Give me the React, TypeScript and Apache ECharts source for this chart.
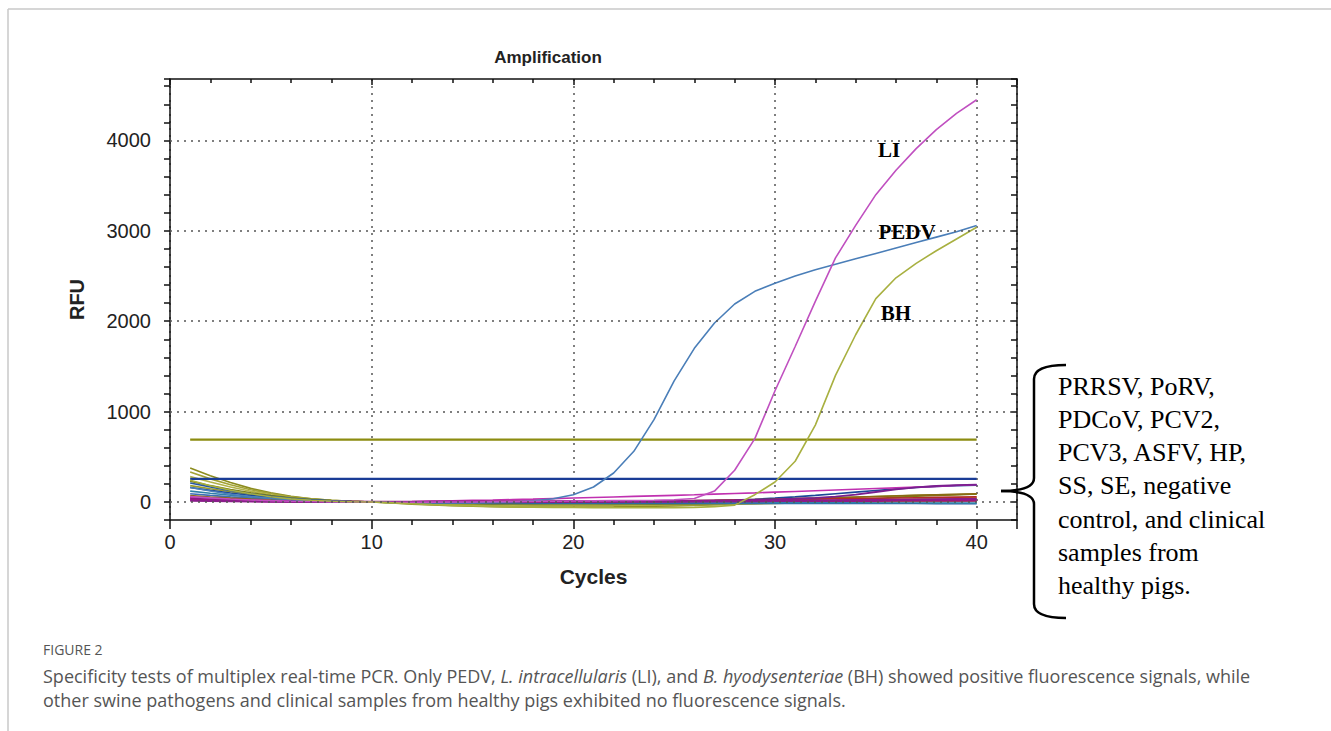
import React, { useEffect, useRef } from "react";
import * as echarts from "echarts";

const cycles = [1, 2, 3, 4, 5, 6, 7, 8, 9, 10, 11, 12, 13, 14, 15, 16, 17, 18, 19, 20, 21, 22, 23, 24, 25, 26, 27, 28, 29, 30, 31, 32, 33, 34, 35, 36, 37, 38, 39, 40];

const xTickLabels = [0, 10, 20, 30, 40];
const yTickLabels = [0, 1000, 2000, 3000, 4000];

// Positive samples
const pedv = [160, 120, 85, 60, 40, 25, 14, 6, 2, 0,
  -6, -10, -12, -12, -10, -6, 0, 12, 35, 80,
  165, 320, 560, 910, 1340, 1700, 1980, 2190, 2330, 2420,
  2500, 2570, 2630, 2690, 2750, 2810, 2870, 2930, 2990, 3060];
const li = [60, 45, 32, 22, 14, 8, 4, 1, 0, -2,
  -3, -3, -2, -1, 0, 2, 4, 6, 8, 10,
  12, 14, 16, 19, 24, 38, 120, 350, 700, 1230,
  1720, 2220, 2700, 3060, 3400, 3670, 3910, 4120, 4300, 4450];
const bh = [240, 180, 130, 90, 58, 34, 18, 8, 2, 0,
  -10, -20, -30, -38, -45, -50, -55, -58, -60, -62,
  -64, -65, -65, -65, -63, -60, -52, -35, 80, 220,
  450, 850, 1400, 1850, 2250, 2480, 2640, 2780, 2910, 3040];

// Thresholds
const thresholdOlive = 690;
const thresholdBlue = 255;

// Negative / non-target samples
const o1 = [375, 290, 215, 150, 100, 62, 36, 18, 6, 0,
  -12, -24, -34, -42, -48, -52, -55, -57, -58, -58,
  -57, -55, -52, -48, -44, -38, -30, -20, -8, 4,
  18, 30, 42, 52, 60, 68, 74, 78, 82, 85];
const o2 = [330, 255, 190, 135, 92, 58, 34, 18, 7, 0,
  -8, -16, -22, -28, -33, -36, -38, -40, -41, -42,
  -42, -41, -40, -38, -36, -33, -30, -26, -22, -17,
  -12, -6, 0, 6, 12, 18, 24, 30, 36, 42];
const o3 = [280, 220, 165, 118, 80, 52, 31, 16, 6, 0,
  -6, -12, -18, -24, -28, -32, -35, -37, -38, -38,
  -37, -35, -33, -30, -26, -22, -18, -14, -10, -6,
  -2, 3, 8, 14, 20, 26, 32, 38, 44, 50];
const o4 = [230, 180, 138, 100, 70, 46, 28, 15, 6, 0,
  -5, -10, -14, -18, -21, -24, -26, -27, -28, -28,
  -28, -27, -26, -24, -22, -19, -16, -12, -8, -4,
  2, 8, 16, 26, 38, 50, 62, 72, 80, 88];
const o5 = [180, 145, 112, 82, 58, 40, 25, 13, 5, 0,
  -4, -8, -12, -15, -18, -20, -22, -23, -24, -24,
  -24, -23, -22, -21, -20, -18, -16, -14, -12, -10,
  -8, -6, -4, -2, 0, 2, 4, 6, 8, 10];
const b1 = [210, 165, 125, 90, 62, 40, 24, 12, 4, 0,
  -4, -8, -11, -13, -15, -16, -17, -17, -18, -18,
  -18, -18, -18, -18, -18, -18, -17, -17, -17, -16,
  -16, -16, -16, -17, -17, -18, -18, -19, -19, -20];
const b2 = [160, 128, 98, 72, 50, 33, 20, 10, 3, 0,
  -3, -6, -8, -9, -10, -10, -10, -9, -8, -7,
  -6, -5, -3, -1, 2, 6, 12, 20, 30, 42,
  56, 72, 90, 108, 126, 144, 160, 172, 180, 186];
const b3 = [120, 96, 74, 55, 39, 26, 15, 7, 2, 0,
  -2, -4, -6, -7, -8, -8, -8, -8, -8, -8,
  -7, -8, -8, -9, -9, -9, -10, -10, -10, -10,
  -10, -11, -11, -11, -12, -12, -12, -13, -13, -13];
const b4 = [90, 72, 56, 42, 30, 20, 12, 6, 2, 0,
  -1, -2, -3, -3, -3, -2, -1, 0, 1, 2,
  3, 4, 5, 6, 7, 8, 9, 10, 11, 12,
  13, 15, 16, 18, 19, 21, 23, 24, 26, 28];
const m1 = [45, 34, 24, 16, 10, 6, 3, 1, 0, -1,
  2, 5, 9, 13, 17, 21, 26, 31, 37, 43,
  49, 55, 61, 67, 73, 79, 86, 93, 100, 108,
  116, 124, 132, 140, 148, 156, 164, 172, 181, 190];
const m2 = [35, 27, 20, 14, 9, 6, 3, 1, 0, -1,
  -2, -2, -1, -1, 0, 1, 2, 3, 4, 5,
  6, 7, 8, 10, 12, 14, 17, 20, 24, 29,
  35, 44, 58, 80, 110, 140, 162, 176, 185, 192];
const m3 = [25, 19, 14, 10, 7, 4, 2, 1, 0, 0,
  0, 1, 1, 2, 2, 3, 3, 4, 4, 5,
  5, 6, 6, 7, 7, 8, 8, 9, 9, 10,
  10, 11, 11, 12, 12, 13, 13, 14, 14, 15];
const m4 = [15, 12, 9, 6, 4, 2, 1, 0, 0, -1,
  -1, -1, 0, 0, 1, 1, 2, 2, 3, 3,
  4, 4, 5, 5, 6, 7, 8, 9, 10, 12,
  14, 16, 18, 20, 22, 24, 26, 28, 30, 32];
const r1 = [50, 38, 28, 20, 13, 8, 4, 2, 0, -1,
  -2, -2, -1, 0, 1, 2, 3, 4, 5, 6,
  7, 8, 9, 11, 13, 15, 17, 20, 23, 26,
  29, 32, 35, 38, 41, 44, 47, 50, 53, 56];
const br1 = [70, 55, 42, 31, 22, 14, 8, 4, 1, 0,
  -2, -4, -5, -6, -6, -6, -5, -4, -3, -2,
  0, 2, 4, 6, 9, 12, 16, 20, 25, 30,
  36, 42, 48, 54, 60, 66, 72, 78, 84, 90];

const braceLines = [
  "PRRSV, PoRV,",
  "PDCoV, PCV2,",
  "PCV3, ASFV, HP,",
  "SS, SE, negative",
  "control, and clinical",
  "samples from",
  "healthy pigs.",
];

const SANS = "Liberation Sans";
const SERIF = "Liberation Serif";

function mk(name: string, values: number[], color: string, width: number, z = 2): any {
  return {
    type: "line",
    name,
    data: values.map((v, i) => [cycles[i], v]),
    showSymbol: false,
    symbol: "none",
    silent: true,
    z,
    lineStyle: { color, width },
    itemStyle: { color },
  };
}

export default function App() {
  const ref = useRef<HTMLDivElement>(null);
  useEffect(() => {
    if (!ref.current) return;
    const chart = echarts.init(ref.current, null, { renderer: "svg" });

    const dotted = { type: [2, 5] as any, color: "#555", width: 1.5 };
    const axisLine = { show: true, onZero: false, lineStyle: { color: "#111", width: 1.5 } };

    const baseSeries = [
      mk("o1", o1, "#8c8c1e", 1.6),
      mk("o2", o2, "#a3a335", 1.6),
      mk("o3", o3, "#b3b34a", 1.6),
      mk("o4", o4, "#7d7d10", 1.6),
      mk("o5", o5, "#9c9c28", 1.6),
      mk("b1", b1, "#2556a4", 1.6),
      mk("b2", b2, "#1c4898", 1.6),
      mk("b3", b3, "#3080a8", 1.6),
      mk("b4", b4, "#3d6fb8", 1.6),
      mk("br1", br1, "#8a6a14", 1.6),
      mk("r1", r1, "#b22a2a", 1.6),
      mk("m1", m1, "#c030b0", 1.6),
      mk("m2", m2, "#7a1f8f", 1.8),
      mk("m3", m3, "#a0157a", 2.2),
      mk("m4", m4, "#8b1c8b", 2.2),
    ];
    baseSeries[0].markLine = {
      symbol: ["none", "none"],
      silent: true,
      label: { show: false },
      lineStyle: dotted,
      data: yTickLabels.map((v) => ({ yAxis: v })),
    };

    const thr = (name: string, v: number, color: string) =>
      mk(name, cycles.map(() => v), color, 2.2, 3);

    const option: any = {
      animation: false,
      backgroundColor: "#ffffff",
      grid: { left: 170, right: 314, top: 79, bottom: 211, containLabel: false },
      xAxis: [
        {
          type: "value",
          position: "bottom",
          min: 0,
          max: 42,
          interval: 10,
          axisLine,
          axisTick: { show: true, length: 9, lineStyle: { color: "#111", width: 1.5 } },
          minorTick: { show: true, splitNumber: 5, length: 5, lineStyle: { color: "#111", width: 1.5 } },
          axisLabel: {
            fontSize: 20,
            fontFamily: SANS,
            color: "#222",
            margin: 12,
            showMaxLabel: false,
            formatter: (v: number) => (xTickLabels.includes(v) ? String(v) : ""),
          },
          splitLine: { show: true, lineStyle: dotted },
          name: "Cycles",
          nameLocation: "middle",
          nameGap: 46,
          nameTextStyle: { fontSize: 21, fontWeight: "bold", fontFamily: SANS, color: "#222" },
        },
        {
          type: "value",
          position: "top",
          min: 0,
          max: 42,
          interval: 10,
          axisLine,
          axisTick: { show: true, inside: true, length: 6, lineStyle: { color: "#111", width: 1.5 } },
          minorTick: { show: true, splitNumber: 5, length: 4, lineStyle: { color: "#111", width: 1.5 } },
          axisLabel: { show: false },
          splitLine: { show: false },
        },
      ],
      yAxis: [
        {
          type: "value",
          position: "left",
          min: -200,
          max: 4680,
          interval: 200,
          axisLine,
          axisTick: { show: true, length: 6, lineStyle: { color: "#111", width: 1.5 } },
          axisLabel: {
            fontSize: 20,
            fontFamily: SANS,
            color: "#222",
            margin: 19,
            formatter: (v: number) => (yTickLabels.includes(v) ? String(v) : ""),
          },
          splitLine: { show: false },
          name: "RFU",
          nameLocation: "middle",
          nameGap: 83,
          nameTextStyle: { fontSize: 20, fontWeight: "bold", fontFamily: SANS, color: "#222" },
        },
        {
          type: "value",
          position: "right",
          min: -200,
          max: 4680,
          interval: 200,
          axisLine,
          axisTick: { show: true, inside: true, length: 6, lineStyle: { color: "#111", width: 1.5 } },
          axisLabel: { show: false },
          splitLine: { show: false },
        },
      ],
      series: [
        ...baseSeries,
        thr("thrBlue", thresholdBlue, "#1a3c96"),
        thr("thrOlive", thresholdOlive, "#8c8c10"),
        mk("PEDV", pedv, "#4a7eb8", 1.6, 4),
        mk("LI", li, "#c050c0", 1.6, 4),
        mk("BH", bh, "#a8b040", 1.6, 4),
      ],
      graphic: [
        { type: "line", shape: { x1: 8, y1: 9, x2: 1331, y2: 9 }, style: { stroke: "#c8c8c8", lineWidth: 1.5 } },
        { type: "line", shape: { x1: 8, y1: 9, x2: 8, y2: 731 }, style: { stroke: "#c8c8c8", lineWidth: 1.5 } },
        {
          type: "text", x: 548, y: 57,
          style: { text: "Amplification", font: `bold 17px "${SANS}"`, fill: "#222", textAlign: "center", textVerticalAlign: "middle", align: "center", verticalAlign: "middle" },
        },
        {
          type: "text", x: 889, y: 150, z: 10,
          style: { text: "LI", font: `bold 21px "${SERIF}"`, fill: "#000", textAlign: "center", textVerticalAlign: "middle", align: "center", verticalAlign: "middle" },
        },
        {
          type: "text", x: 907, y: 232, z: 10,
          style: { text: "PEDV", font: `bold 21px "${SERIF}"`, fill: "#000", textAlign: "center", textVerticalAlign: "middle", align: "center", verticalAlign: "middle" },
        },
        {
          type: "text", x: 896, y: 313, z: 10,
          style: { text: "BH", font: `bold 21px "${SERIF}"`, fill: "#000", textAlign: "center", textVerticalAlign: "middle", align: "center", verticalAlign: "middle" },
        },
        // brace
        { type: "bezierCurve", z: 10, shape: { x1: 1066, y1: 365, x2: 1034, y2: 379, cpx1: 1034, cpy1: 365 }, style: { stroke: "#000", lineWidth: 2.5, fill: "none" } },
        { type: "line", z: 10, shape: { x1: 1034, y1: 379, x2: 1034, y2: 478 }, style: { stroke: "#000", lineWidth: 2.5 } },
        { type: "bezierCurve", z: 10, shape: { x1: 1034, y1: 478, x2: 1001, y2: 491, cpx1: 1034, cpy1: 491 }, style: { stroke: "#000", lineWidth: 2.5, fill: "none" } },
        { type: "bezierCurve", z: 10, shape: { x1: 1001, y1: 491, x2: 1034, y2: 504, cpx1: 1034, cpy1: 491 }, style: { stroke: "#000", lineWidth: 2.5, fill: "none" } },
        { type: "line", z: 10, shape: { x1: 1034, y1: 504, x2: 1034, y2: 604 }, style: { stroke: "#000", lineWidth: 2.5 } },
        { type: "bezierCurve", z: 10, shape: { x1: 1034, y1: 604, x2: 1066, y2: 618, cpx1: 1034, cpy1: 618 }, style: { stroke: "#000", lineWidth: 2.5, fill: "none" } },
        ...braceLines.map((t, i) => ({
          type: "text", x: 1058, y: 386 + i * 33.3, z: 10,
          style: { text: t, font: `26px "${SERIF}"`, fill: "#000", textAlign: "left", textVerticalAlign: "middle", align: "left", verticalAlign: "middle" },
        })),
        {
          type: "text", x: 43, y: 649,
          style: { text: "FIGURE 2", font: `14px "Open Sans"`, fill: "#555", textAlign: "left", textVerticalAlign: "middle", align: "left", verticalAlign: "middle" },
        },
        {
          type: "text", x: 43, y: 676,
          style: {
            text: "Specificity tests of multiplex real-time PCR. Only PEDV, {i|L. intracellularis} (LI), and {i|B. hyodysenteriae} (BH) showed positive fluorescence signals, while",
            font: `18px "Open Sans"`, fontSize: 18, fontFamily: "Open Sans", fill: "#555",
            textAlign: "left", textVerticalAlign: "middle", align: "left", verticalAlign: "middle",
            rich: { i: { fontStyle: "italic", fontSize: 18, fontFamily: "Open Sans", fill: "#555" } },
          },
        },
        {
          type: "text", x: 43, y: 700,
          style: {
            text: "other swine pathogens and clinical samples from healthy pigs exhibited no fluorescence signals.",
            font: `18px "Open Sans"`, fill: "#555", textAlign: "left", textVerticalAlign: "middle", align: "left", verticalAlign: "middle",
          },
        },
      ],
    };
    chart.setOption(option);
    return () => chart.dispose();
  }, []);
  return <div ref={ref} style={{ position: "absolute", left: 0, top: 0, width: 1331, height: 731 }} />;
}
